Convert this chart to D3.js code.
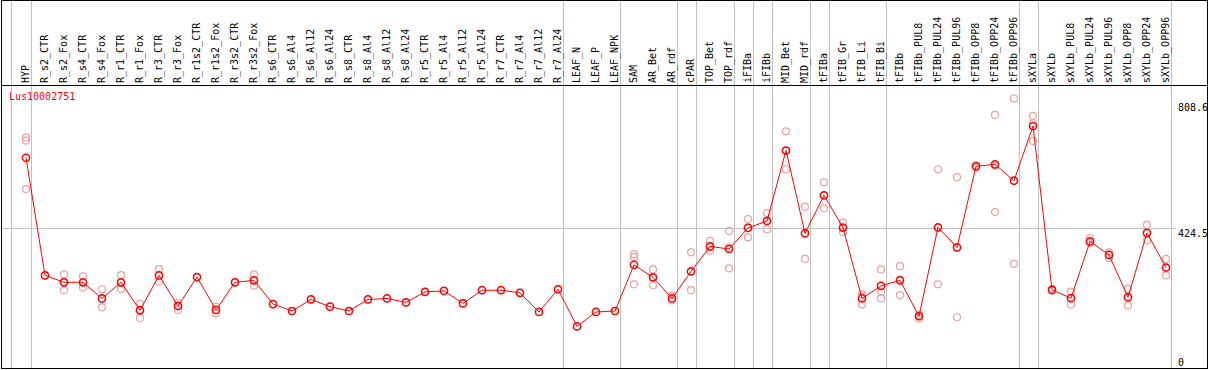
<!DOCTYPE html>
<html>
<head>
<meta charset="utf-8">
<script src="https://cdn.jsdelivr.net/npm/d3@7"></script>
<style>
  body { margin: 0; background: #fff; }
  svg text { font-family: 'DejaVu Sans Mono', monospace; font-size: 10px; }
</style>
</head>
<body>
<svg id="chart" width="1209" height="370"></svg>
<script>
const title = 'Lus10002751';

const samples = [
  'HYP', 'R_s2_CTR', 'R_s2_Fox', 'R_s4_CTR', 'R_s4_Fox', 'R_r1_CTR', 'R_r1_Fox',
  'R_r3_CTR', 'R_r3_Fox', 'R_r1s2_CTR', 'R_r1s2_Fox', 'R_r3s2_CTR', 'R_r3s2_Fox',
  'R_s6_CTR', 'R_s6_Al4', 'R_s6_Al12', 'R_s6_Al24', 'R_s8_CTR', 'R_s8_Al4',
  'R_s8_Al12', 'R_s8_Al24', 'R_r5_CTR', 'R_r5_Al4', 'R_r5_Al12', 'R_r5_Al24',
  'R_r7_CTR', 'R_r7_Al4', 'R_r7_Al12', 'R_r7_Al24', 'LEAF_N', 'LEAF_P', 'LEAF_NPK',
  'SAM', 'AR_Bet', 'AR_rdf', 'cPAR', 'TOP_Bet', 'TOP_rdf', 'iFIBa', 'iFIBb',
  'MID_Bet', 'MID_rdf', 'tFIBa', 'tFIB_Gr', 'tFIB_Li', 'tFIB_Bi', 'tFIBb',
  'tFIBb_PUL8', 'tFIBb_PUL24', 'tFIBb_PUL96', 'tFIBb_OPP8', 'tFIBb_OPP24', 'tFIBb_OPP96',
  'sXYLa', 'sXYLb', 'sXYLb_PUL8', 'sXYLb_PUL24', 'sXYLb_PUL96', 'sXYLb_OPP8',
  'sXYLb_OPP24', 'sXYLb_OPP96'
];

// number of samples in each tissue group (gray separators after each group)
const groupSizes = [1, 28, 3, 3, 1, 2, 1, 1, 2, 1, 3, 7, 1, 7];

const means = [
  638, 281, 260, 260, 211, 260, 175, 281, 188, 276, 176, 260, 266,
  194, 173, 208, 186, 173, 208, 211, 199, 231, 234, 196, 236,
  236, 228, 170, 239, 126, 170, 173,
  313, 275, 211, 293, 369, 361, 425, 446,
  660, 409, 524, 426, 211, 249, 266,
  157, 427, 366, 612, 618, 568,
  734, 237, 212, 384, 343, 215, 410, 305
];

const replicates = [
  [699, 690, 543], [281], [284, 236, 261], [278, 244, 259], [239, 184, 210],
  [282, 240, 259], [195, 152, 177], [300, 262, 281], [198, 176, 190], [276],
  [186, 166, 177], [260], [284, 250, 265],
  [194], [173], [208], [186], [173], [208], [211], [199], [231], [234], [196], [236],
  [236], [228], [170], [239], [126], [170], [173],
  [345, 337, 254], [299, 251, 275], [219, 211, 205], [351, 236, 292],
  [386, 356, 366], [416, 302, 365], [452, 397, 426], [470, 421, 447],
  [718, 603, 659], [489, 331, 407], [563, 485, 524], [442, 412, 424],
  [224, 193, 216], [299, 231, 211], [309, 221, 268],
  [150, 160, 161], [603, 254, 424], [579, 154, 365], [614, 608, 614],
  [768, 473, 613], [818, 316, 570],
  [765, 742, 689], [235, 240, 236], [232, 193, 211], [393, 379, 381],
  [351, 334, 344], [240, 190, 215], [434, 387, 409], [331, 281, 303]
];

const yTicks = [0, 424.5, 808.6];

const headerBottom = 85;
const plotBottom = 368;

const svg = d3.select('#chart');

const x = d3.scalePoint().domain(samples).range([26, 1166]);
const y = d3.scaleLinear().domain([0, 808.6]).range([plotBottom, 101.5]);

// group separators
const sepX = [x(samples[0]) - 15];
let idx = 0;
groupSizes.forEach(n => {
  idx += n;
  sepX.push(x(samples[idx - 1]) + 4.5);
});
svg.append('g')
  .selectAll('line')
  .data(sepX)
  .join('line')
  .attr('x1', d => Math.round(d) + 0.5)
  .attr('x2', d => Math.round(d) + 0.5)
  .attr('y1', 0)
  .attr('y2', plotBottom)
  .attr('stroke', '#c0c0c0')
  .attr('stroke-width', 1);

// middle gridline
svg.append('line')
  .attr('x1', 1)
  .attr('x2', 1176)
  .attr('y1', Math.round(y(yTicks[1])) + 0.5)
  .attr('y2', Math.round(y(yTicks[1])) + 0.5)
  .attr('stroke', '#c0c0c0');

// sample labels in the header
svg.append('g')
  .selectAll('text')
  .data(samples)
  .join('text')
  .attr('transform', d => `translate(${x(d) + 3},83) rotate(-90)`)
  .attr('fill', '#000')
  .text(d => d);

// header separator and border
svg.append('line')
  .attr('x1', 1).attr('x2', 1208)
  .attr('y1', headerBottom + 0.5).attr('y2', headerBottom + 0.5)
  .attr('stroke', '#000');
svg.append('rect')
  .attr('x', 1.5).attr('y', 0.5)
  .attr('width', 1206).attr('height', plotBottom)
  .attr('fill', 'none')
  .attr('stroke', '#000');

// y labels on the right
svg.append('g')
  .selectAll('text')
  .data(yTicks)
  .join('text')
  .attr('x', 1178)
  .attr('y', d => Math.min(y(d) + 9, 366))
  .attr('fill', '#000')
  .text(d => d);

// title
svg.append('text')
  .attr('x', 9)
  .attr('y', 100)
  .attr('fill', '#ff0000')
  .text(title);

// replicate points
const reps = [];
replicates.forEach((vals, i) => vals.forEach(v => reps.push({ s: samples[i], v })));
svg.append('g')
  .selectAll('circle')
  .data(reps)
  .join('circle')
  .attr('cx', d => x(d.s))
  .attr('cy', d => y(d.v))
  .attr('r', 3.5)
  .attr('fill', 'none')
  .attr('stroke', '#f0a0a0')
  .attr('stroke-width', 1.2);

// mean line
const line = d3.line()
  .x((d, i) => x(samples[i]))
  .y(d => y(d));
svg.append('path')
  .datum(means)
  .attr('d', line)
  .attr('fill', 'none')
  .attr('stroke', '#ff0000')
  .attr('stroke-width', 1);

// mean points
svg.append('g')
  .selectAll('circle')
  .data(means)
  .join('circle')
  .attr('cx', (d, i) => x(samples[i]))
  .attr('cy', d => y(d))
  .attr('r', 3.6)
  .attr('fill', 'none')
  .attr('stroke', '#ff0000')
  .attr('stroke-width', 1.5);
</script>
</body>
</html>
